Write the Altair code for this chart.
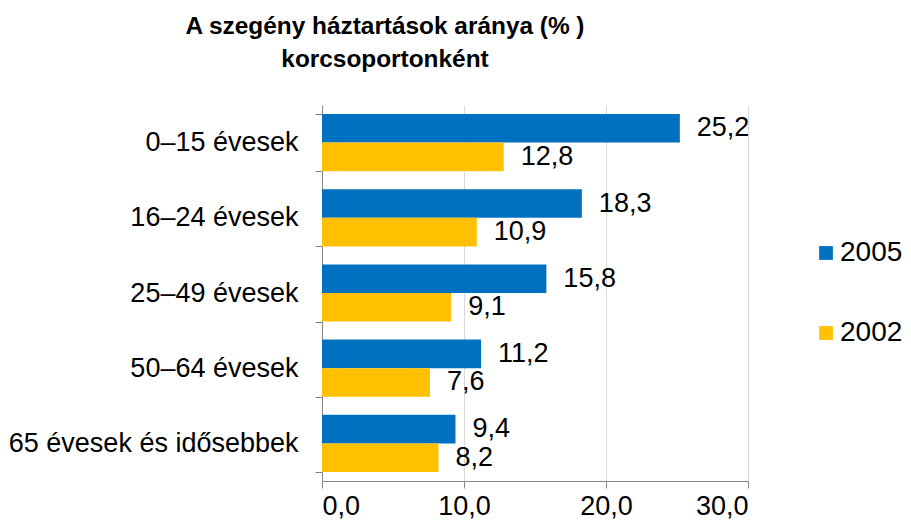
import altair as alt
import pandas as pd

categories = ["0–15 évesek", "16–24 évesek", "25–49 évesek", "50–64 évesek", "65 évesek és idősebbek"]
series = ["2005", "2002"]
values_2005 = [25.2, 18.3, 15.8, 11.2, 9.4]
values_2002 = [12.8, 10.9, 9.1, 7.6, 8.2]
colors = ["#0070C0", "#FFC000"]
x_ticks = [0, 10, 20, 30]

rows = []
for c, a, b in zip(categories, values_2005, values_2002):
    rows.append({"cat": c, "series": "2005", "v": a})
    rows.append({"cat": c, "series": "2002", "v": b})
df = pd.DataFrame(rows)

FONT = "Liberation Sans"

y_enc = alt.Y("cat:N", sort=categories, title=None,
              scale=alt.Scale(paddingInner=0.24, paddingOuter=0.12),
              axis=alt.Axis(labelFontSize=27, labelColor="#000000", labelFont=FONT,
                            labelPadding=17, tickSize=7, tickBand="extent",
                            domainColor="#868686", tickColor="#868686", grid=False,
                            labelLimit=400))
x_enc = alt.X("v:Q", title=None, scale=alt.Scale(domain=[0, 30], nice=False),
              axis=alt.Axis(values=x_ticks, labelExpr="replace(format(datum.value,'.1f'),'.',',')",
                            labelFontSize=27, labelColor="#000000", labelFont=FONT,
                            labelPadding=5, tickSize=7, domainColor="#868686",
                            tickColor="#868686", grid=True, gridColor="#D9D9D9"))
yoff = alt.YOffset("series:N", scale=alt.Scale(domain=series))

bars = alt.Chart(df).mark_bar().encode(
    y=y_enc, x=x_enc, yOffset=yoff,
    color=alt.Color("series:N", scale=alt.Scale(domain=series, range=colors),
                    legend=alt.Legend(title=None, orient="none", legendX=490, legendY=134,
                                      labelFontSize=28, labelFont=FONT, labelColor="#000000",
                                      symbolType="square", symbolSize=190, symbolStrokeWidth=0,
                                      rowPadding=52, labelOffset=0, padding=0)),
)

labels = alt.Chart(df).transform_calculate(
    lbl="replace(format(datum.v,'.1f'),'.',',')"
).mark_text(align="left", baseline="middle", dx=17, fontSize=27, font=FONT, color="#000000").encode(
    y=alt.Y("cat:N", sort=categories), x="v:Q", yOffset=yoff, text="lbl:N"
)

chart = alt.layer(bars, labels).properties(
    width=426, height=376,
    autosize=alt.AutoSizeParams(type="none"),
    padding={"left": 314, "top": 97, "right": 155, "bottom": 39},
    title=alt.TitleParams(["A szegény háztartások aránya (% )", "korcsoportonként"],
                          font=FONT, fontSize=24.4, fontWeight="bold", color="#000000",
                          anchor="middle", align="center", dx=-150, lineHeight=33, offset=19),
).configure_view(stroke=None)

chart.save("out.html", embed_options={"renderer": "svg", "actions": False})
